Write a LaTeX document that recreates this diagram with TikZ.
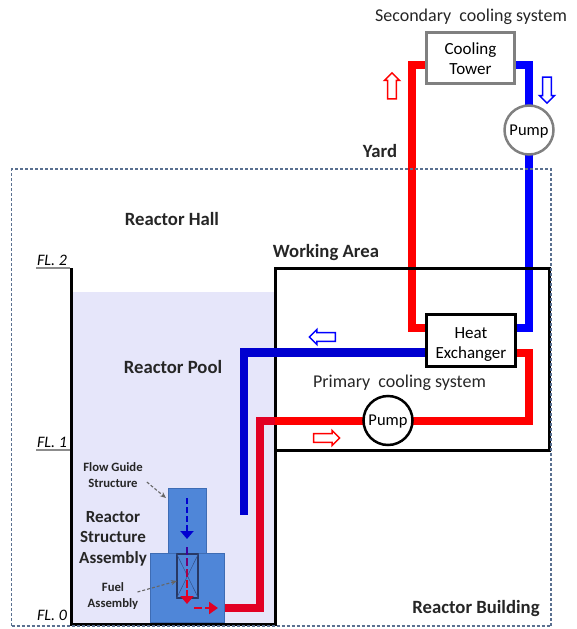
\documentclass[tikz,border=0pt]{standalone}
\usepackage{fontspec}
\setmainfont{Carlito}
\usepackage{tikz}
\usetikzlibrary{shapes,arrows.meta,backgrounds}

\definecolor{poolcol}{RGB}{230,230,250}
\definecolor{structcol}{RGB}{79,134,216}
\definecolor{structedge}{RGB}{62,108,180}
\definecolor{redin}{RGB}{226,0,36}
\definecolor{bluein}{RGB}{0,0,208}
\definecolor{buildcol}{RGB}{90,112,144}
\definecolor{labelcol}{RGB}{38,38,38}
\definecolor{fuelcol}{RGB}{40,56,100}

\tikzset{
	redpipe/.style={line width=8.5pt,red},
	bluepipe/.style={line width=8.5pt,blue},
	pumpcirc/.style={circle,draw,fill=white,line width=2.5pt,minimum size=49pt,inner sep=0pt,text depth=0pt,font=\fontsize{16.5}{18}\selectfont},
	unitbox/.style={rectangle,draw,fill=white,line width=2.5pt,align=center,inner sep=0pt,font=\fontsize{17}{20}\selectfont},
	boldlabel/.style={text=labelcol,font=\fontsize{18.7}{20}\selectfont\bfseries,align=center,inner sep=0pt},
	smalllabel/.style={text=labelcol,font=\fontsize{12.7}{15.5}\selectfont\bfseries,align=center,inner sep=0pt},
	plainlabel/.style={text=labelcol,font=\fontsize{18}{20}\selectfont,inner sep=0pt},
	fllabel/.style={font=\fontsize{16}{18}\selectfont\itshape,inner sep=0pt},
	struct/.style={rectangle,draw=structedge,fill=structcol,line width=1pt,inner sep=0pt},
	flowarrow/.style={single arrow,draw,fill=white,line width=1.5pt,minimum height=26pt,minimum width=15pt,inner sep=3.6pt,single arrow head extend=3.2pt},
	leader/.style={densely dashed,line width=1.1pt,black!60,-{Stealth[length=6pt,width=5pt]}},
	coreflow/.style={line width=2.2pt,dash pattern=on 6pt off 3pt}
}

\begin{document}
\begin{tikzpicture}[x=1pt,y=-1pt]
	\useasboundingbox (0,0) rectangle (577,629);

	% units
	\node[unitbox,draw=black!50,minimum width=88pt,minimum height=51pt] (tower) at (470.5,58) {\rule{0pt}{14pt}Cooling\\Tower};
	\node[unitbox,minimum width=89pt,minimum height=52pt] (hx) at (471,340.5) {\rule{0pt}{18pt}Heat\\Exchanger};
	\node[pumpcirc,draw=black!50] (pumptop) at (529,130) {Pump};
	\node[pumpcirc] (pumpmain) at (388,420.5) {Pump};

	% pipes and walls go under the units
	\begin{pgfonlayer}{background}
		\fill[poolcol] (72,292) rectangle (275,624);
		\draw[redpipe] (tower.west |- 0,65) -| (412,328) -- (hx.west |- 0,328);
		\draw[bluepipe] (tower.east |- 0,65) -| (529,328) -- (hx.east |- 0,328);
		\draw[line width=3pt,line join=miter] (71,268) -- (71,624) -- (275,624) -- (275,268) -- (549,268) -- (549,450) -- (275,450);
		\draw[line width=8.5pt,bluein] (hx.west |- 0,352.5) -| (244,515);
		\coordinate (wallcross) at (275,421);
		\draw[redpipe] (hx.east |- 0,353) -| (529,421) -- (wallcross);
		\draw[line width=8.5pt,redin] (wallcross) -| (260,608) -- (224,608);
	\end{pgfonlayer}

	% building outline and floors
	\node[draw=buildcol,densely dashed,line width=1.2pt,minimum width=539.5pt,minimum height=457pt,inner sep=0pt] (building) at (281.25,397.5) {};
	\draw[line width=1.5pt,black!45] (36,268) -- (70,268);
	\draw[line width=1.5pt,black!45] (36,450) -- (70,450);
	\node[fllabel] (fl2) at (52,260) {FL. 2};
	\node[fllabel] (fl1) at (52,442) {FL. 1};
	\node[fllabel] (fl0) at (52,615) {FL. 0};

	% reactor structure
	\node[struct,minimum width=38pt,minimum height=65pt] (guide) at (187,520.5) {};
	\node[struct,minimum width=74pt,minimum height=69pt] (base) at (187,588) {};
	\node[rectangle,draw=fuelcol,line width=1.2pt,minimum width=21pt,minimum height=44pt,inner sep=0pt] (fuel) at (187.5,576) {};
	\draw[fuelcol!70!structcol,line width=0.5pt] (fuel.north west) -- (fuel.south east);
	\draw[fuelcol!70!structcol,line width=0.5pt] (fuel.north east) -- (fuel.south west);

	% flow inside the structure
	\draw[coreflow,bluein,-{Triangle[length=8pt,width=13pt]}] (187,498) -- (187,539);
	\foreach \ya/\yb/\shade in {547/555/25, 558/566/45, 569/577/65, 580/588/85} {
		\draw[line width=2.2pt,red!\shade!bluein] (187,\ya) -- (187,\yb);
	}
	\draw[line width=2.2pt,redin,-{Triangle[length=8pt,width=13pt]}] (187,590) -- (187,604);
	\draw[line width=2.5pt,redin] (194,608) -- (202,608);
	\draw[line width=2.5pt,redin,-{Triangle[length=9pt,width=12pt]}] (205,608) -- (218,608);

	% flow direction arrows
	\node[flowarrow,draw=red,shape border rotate=90] (arrowup) at (392,88) {};
	\node[flowarrow,draw=blue,shape border rotate=270] (arrowdown) at (547,88) {};
	\node[flowarrow,draw=blue,shape border rotate=180] (arrowleft) at (324.5,337) {};
	\node[flowarrow,draw=red] (arrowright) at (324.5,438) {};

	% labels
	\node[plainlabel] (secondary) at (471,16.5) {Secondary\ \ cooling system};
	\node[plainlabel] (primary) at (399.5,382.5) {Primary\ \ cooling system};
	\node[boldlabel] (yard) at (380,151) {Yard};
	\node[boldlabel] (hall) at (172,219) {Reactor Hall};
	\node[boldlabel] (working) at (326,252.5) {Working Area};
	\node[boldlabel] (pool) at (173,367) {Reactor Pool};
	\node[boldlabel,font=\fontsize{17}{20.5}\selectfont\bfseries] (rsa) at (113,538.5) {Reactor\\Structure\\Assembly};
	\node[boldlabel] (bldg) at (476,609) {Reactor Building};
	\node[smalllabel] (flowlabel) at (113,475) {Flow Guide\\Structure};
	\node[smalllabel] (fuellabel) at (113,596) {Fuel\\Assembly};

	% leaders
	\coordinate (guidetip) at (166,498);
	\coordinate (fueltip) at (177,581);
	\draw[leader] ([xshift=4pt,yshift=-7pt]flowlabel.east) -- (guidetip);
	\draw[leader] ([xshift=-1pt,yshift=4pt]fuellabel.east) -- (fueltip);
\end{tikzpicture}
\end{document}
